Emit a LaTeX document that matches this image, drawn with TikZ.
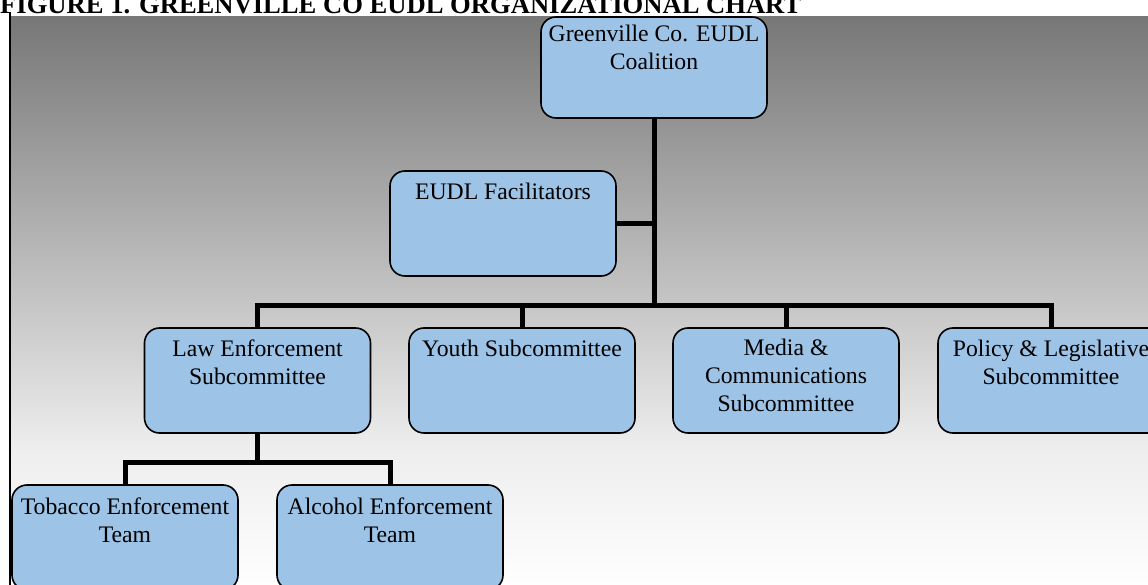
\documentclass[tikz,border=0pt]{standalone}
\usepackage{fontspec}
\setmainfont{Liberation Serif}
\definecolor{boxblue}{HTML}{9DC3E6}
\definecolor{bgtop}{HTML}{777777}
\definecolor{bgmid}{HTML}{EEEEEE}
\definecolor{bgbot}{HTML}{FEFEFE}
\newcommand\orgtext[3]{\parbox[c][#1][t]{226pt}{\centering\fontsize{23.7pt}{28pt}\selectfont\rule{0pt}{#2}#3\par}}
\tikzset{
  orgbox/.style={draw=black, line width=1.6pt, fill=boxblue, rounded corners=15pt, inner sep=0pt, outer sep=0pt},
  conn/.style={draw=black, line width=5pt, line join=miter},
}
\begin{document}
\begin{tikzpicture}[x=1pt, y=-1pt]
\clip (0,0) rectangle (1148,585);
\fill[white] (0,0) rectangle (1148,585);
% background gradient
\shade[top color=bgtop, bottom color=bgmid] (11,17) rectangle (1148,451);
\shade[top color=bgmid, bottom color=bgbot] (11,450) rectangle (1148,585);
\draw[line width=2pt, black] (10,12.5) -- (10,586);
% title
\node[anchor=base west, inner sep=0pt, font=\fontsize{26.6pt}{30pt}\selectfont\bfseries] (title) at (0,14) {FIGURE 1. GREENVILLE CO EUDL ORGANIZATIONAL CHART};
% boxes
\node[orgbox] (top) at (654,67.5) {\orgtext{101pt}{25pt}{Greenville Co. EUDL\\Coalition}};
\node[orgbox] (fac) at (503,223.5) {\orgtext{105pt}{29pt}{EUDL Facilitators}};
\node[orgbox] (law) at (257.5,380.5) {\orgtext{105pt}{28pt}{Law Enforcement\\Subcommittee}};
\node[orgbox] (youth) at (522,380.5) {\orgtext{105pt}{28pt}{Youth Subcommittee}};
\node[orgbox] (media) at (786,380.5) {\orgtext{105pt}{27pt}{Media \&\\Communications\\Subcommittee}};
\node[orgbox] (policy) at (1051,380.5) {\orgtext{105pt}{28pt}{Policy \& Legislative\\Subcommittee}};
\node[orgbox] (tobacco) at (125,537.5) {\orgtext{105pt}{29pt}{Tobacco Enforcement\\Team}};
\node[orgbox] (alcohol) at (390,537.5) {\orgtext{105pt}{29pt}{Alcohol Enforcement\\Team}};
% connectors
\coordinate (bus) at (654,305);
\coordinate (bus2) at (257.5,462);
\draw[conn] (top.south) -- (bus);
\draw[conn] (fac.east) -- (fac.east -| top.south);
\draw[conn] (law.north) |- (bus) -| (policy.north);
\draw[conn] (youth.north) -- (youth.north |- bus);
\draw[conn] (media.north) -- (media.north |- bus);
\draw[conn] (law.south) -- (bus2);
\draw[conn] (tobacco.north) |- (bus2) -| (alcohol.north);
\end{tikzpicture}
\end{document}
